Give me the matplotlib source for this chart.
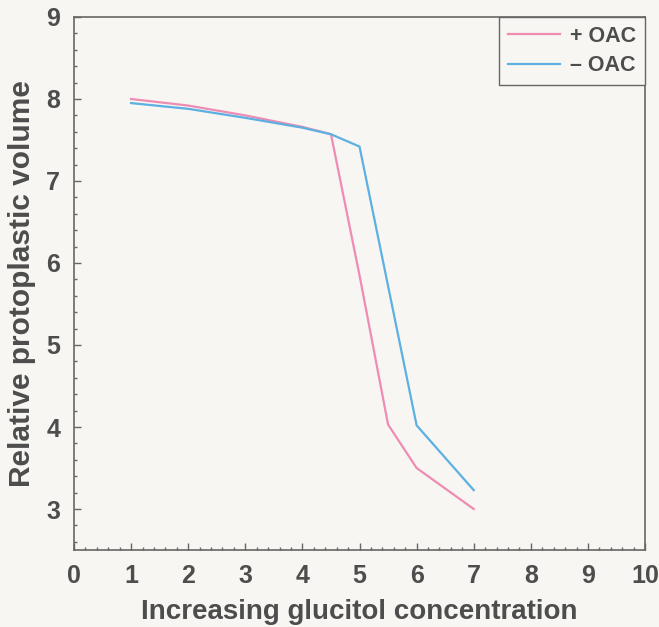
import matplotlib.pyplot as plt
from matplotlib.ticker import MultipleLocator

plt.rcParams['font.family'] = ['Liberation Sans', 'DejaVu Sans']
plt.rcParams['font.weight'] = 'bold'

conc = [1, 2, 3, 4, 4.5, 5, 5.5, 6, 7]
plus_oac = [8.0, 7.92, 7.8, 7.66, 7.57, 5.85, 4.03, 3.5, 3.0]
minus_oac = [7.95, 7.88, 7.77, 7.65, 7.57, 7.42, 5.72, 4.02, 3.23]

txt = '#4d4d4d'
bg = '#f7f6f2'

fig = plt.figure(figsize=(6.59, 6.27), dpi=100, facecolor=bg)
ax = fig.add_axes([0.1123, 0.1228, 0.8665, 0.8501])
ax.set_facecolor(bg)

ax.plot(conc, plus_oac, color='#ee8cb4', lw=1.6, label='+ OAC')
ax.plot(conc, minus_oac, color='#5cb0e2', lw=1.6, label='\u2013 OAC')

ax.set_xlim(0, 10)
ax.set_ylim(2.5, 9)
ax.xaxis.set_major_locator(MultipleLocator(1))
ax.xaxis.set_minor_locator(MultipleLocator(0.2))
ax.yaxis.set_major_locator(MultipleLocator(1))
ax.yaxis.set_minor_locator(MultipleLocator(0.2))
ax.set_yticks(range(3, 10))

ax.tick_params(which='both', direction='in', colors='#666666', labelcolor=txt,
               labelsize=18, width=1)
ax.tick_params(which='major', length=5, pad=10)
ax.tick_params(which='minor', length=2.5)
for lab in ax.get_xticklabels() + ax.get_yticklabels():
    lab.set_fontweight('bold')
for s in ax.spines.values():
    s.set_color('#666666')
    s.set_linewidth(1.2)

ax.set_xlabel('Increasing glucitol concentration', fontsize=20, fontweight='bold',
              color=txt, labelpad=8)
ax.set_ylabel('Relative protoplastic volume', fontsize=21.5, fontweight='bold',
              color=txt, labelpad=7)

leg = ax.legend(loc='upper right', borderaxespad=0, fancybox=False,
                handlelength=2.4, handletextpad=0.5, labelspacing=0.4,
                borderpad=0.4, framealpha=1,
                prop={'weight': 'bold', 'size': 15.5})
leg.get_frame().set_edgecolor('#666666')
leg.get_frame().set_facecolor(bg)
for t in leg.get_texts():
    t.set_color(txt)

fig.savefig('out.png', dpi=100, facecolor=bg)
